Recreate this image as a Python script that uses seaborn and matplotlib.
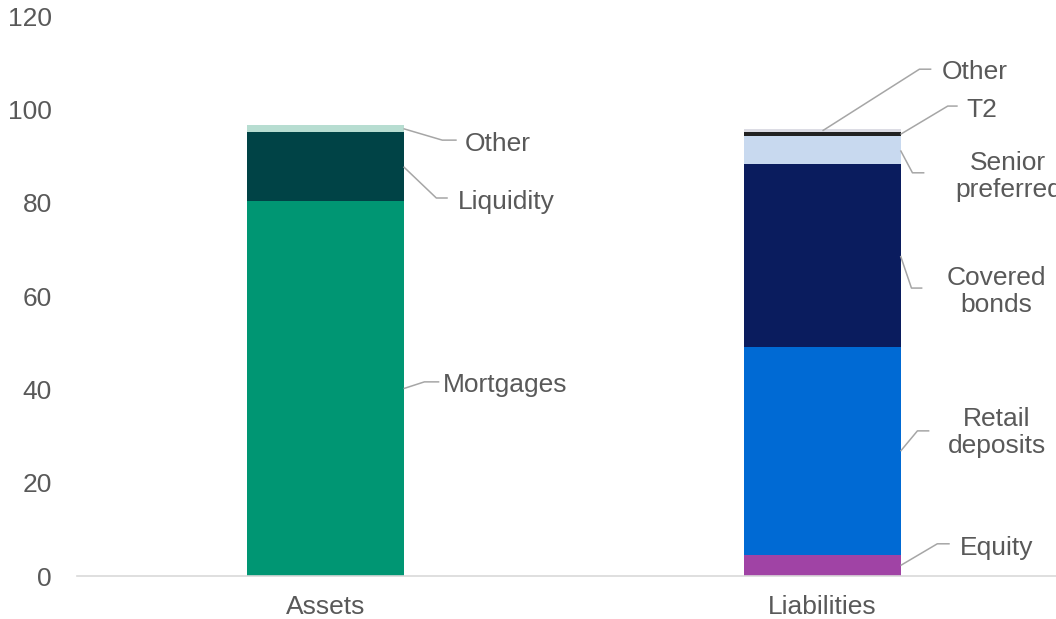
import numpy as np
import pandas as pd
import matplotlib
matplotlib.use("Agg")
import matplotlib.pyplot as plt
import seaborn as sns

# data
categories = ["Assets", "Liabilities"]

asset_labels = ["Mortgages", "Liquidity", "Other"]
asset_values = [80.3, 14.8, 1.5]
asset_colors = ["#009673", "#004346", "#B7DDD1"]

liab_labels = ["Equity", "Retail\ndeposits", "Covered\nbonds", "Senior\npreferred", "T2", "Other"]
liab_values = [4.5, 44.5, 39.2, 6.0, 0.9, 0.6]
liab_colors = ["#A043A5", "#006AD4", "#0A1C5E", "#C8D9EF", "#222222", "#DCDCE4"]

y_ticks = [0, 20, 40, 60, 80, 100, 120]

sns.set_style("white")
plt.rcParams["font.family"] = ["Liberation Sans", "DejaVu Sans"]
text_col = "#595959"
line_col = "#A6A6A6"
fs = 19

fig = plt.figure(figsize=(10.56, 6.19), dpi=100)
ax = fig.add_axes([77 / 1056, 43 / 619, 994 / 1056, 560 / 619])

bar_w = 0.314

# stacked bars: draw cumulative tops from tallest down so lower parts cover them
for cat, vals, cols in [("Assets", asset_values, asset_colors),
                        ("Liabilities", liab_values, liab_colors)]:
    tops = np.cumsum(vals)
    for top, col in list(zip(tops, cols))[::-1]:
        df = pd.DataFrame({"cat": [cat], "val": [top]})
        sns.barplot(data=df, x="cat", y="val", order=categories, color=col,
                    width=bar_w, errorbar=None, linewidth=0, saturation=1, ax=ax)

# label layout: (anchor x, elbow x, elbow y, line end x, text x, text y, ha)
half = bar_w / 2
asset_layout = [
    (half, 0.199, 41.6, 0.229, 0.237, 40.9, "left"),
    (half, 0.223, 81.0, 0.246, 0.266, 80.2, "left"),
    (half, 0.235, 93.4, 0.264, 0.280, 92.5, "left"),
]
liab_layout = [
    (1 + half, 1.231, 6.9, 1.256, 1.276, 6.1, "left"),
    (1 + half, 1.191, 31.1, 1.215, 1.351, 30.7, "center"),
    (1 + half, 1.179, 61.7, 1.201, 1.350, 60.9, "center"),
    (1 + half, 1.181, 86.4, 1.205, 1.374, 85.6, "center"),
    (1 + half, 1.252, 100.7, 1.272, 1.290, 99.9, "left"),
    (1.0, 1.195, 108.6, 1.219, 1.239, 108.1, "left"),
]

for labels, vals, layout in [(asset_labels, asset_values, asset_layout),
                             (liab_labels, liab_values, liab_layout)]:
    tops = np.cumsum(vals)
    mids = tops - np.array(vals) / 2
    for lab, mid, (ax0, ex, ey, lx, tx, ty, ha) in zip(labels, mids, layout):
        ax.plot([ax0, ex, lx], [mid, ey, ey], color=line_col, lw=1.1,
                solid_capstyle="butt", clip_on=False)
        ax.text(tx, ty, lab, ha=ha, va="center", fontsize=fs, color=text_col,
                linespacing=1.15)

ax.set_xlim(-0.5, 1.5)
ax.set_ylim(0, 120)
ax.set_yticks(y_ticks)
ax.set_xlabel("")
ax.set_ylabel("")
ax.tick_params(axis="both", length=0, labelsize=fs, labelcolor=text_col)
ax.tick_params(axis="y", pad=18)
ax.tick_params(axis="x", pad=14)
for s in ["left", "right", "top"]:
    ax.spines[s].set_visible(False)
ax.spines["bottom"].set_color("#D9D9D9")
ax.spines["bottom"].set_linewidth(1.2)

fig.savefig("out.png", dpi=100)
